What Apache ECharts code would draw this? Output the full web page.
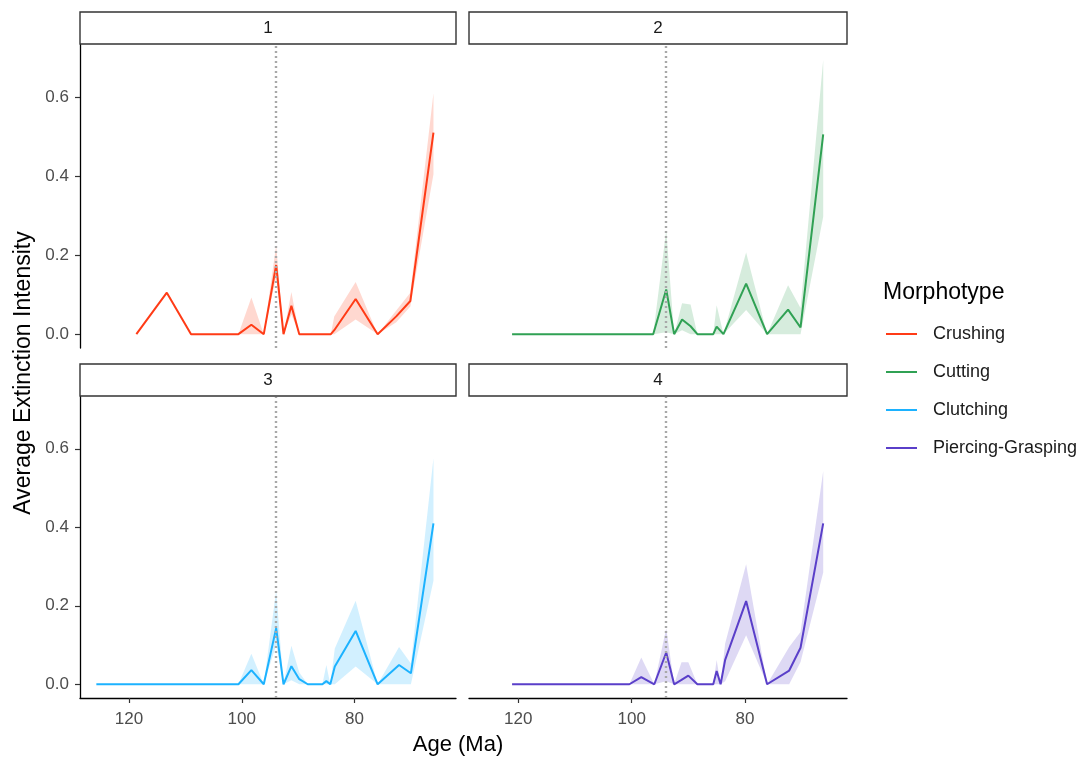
<!DOCTYPE html>
<html>
<head>
<meta charset="utf-8">
<script src="https://cdn.jsdelivr.net/npm/echarts@6/dist/echarts.min.js"></script>
<style>
  html, body { margin: 0; padding: 0; background: #fff; }
  #chart { width: 1091px; height: 759px; }
</style>
</head>
<body>
<div id="chart"></div>
<script>
// names of the facets / morphotypes
const morphotypes = ['Crushing', 'Cutting', 'Clutching', 'Piercing-Grasping'];
const panelLabels = ['1', '2', '3', '4'];
const colors = ['#ff3b16', '#30a154', '#1cb2ff', '#5a3fc9'];

// ages (Ma), mean, lower and upper bounds
const crushingAges  = [118.7, 113.3, 109.0, 100.6, 98.3, 96.1, 93.9, 92.6, 91.2, 89.8, 84.2, 83.6, 79.8, 75.9, 72.6, 70.1, 66.0];
const crushingMean  = [0, 0.105, 0, 0, 0.024, 0, 0.175, 0, 0.072, 0, 0, 0.01, 0.089, 0, 0.045, 0.084, 0.51];
const crushingLow   = [0, 0.105, 0, 0, 0, 0, 0.145, 0, 0.05, 0, 0, 0, 0.037, 0, 0.03, 0.07, 0.405];
const crushingHigh  = [0, 0.105, 0, 0, 0.093, 0, 0.225, 0, 0.107, 0, 0, 0.045, 0.132, 0, 0.06, 0.105, 0.61];

const cuttingAges   = [121.1, 96.2, 93.9, 92.5, 91.1, 89.6, 88.4, 85.6, 85.0, 83.8, 79.8, 76.1, 72.4, 70.2, 66.2];
const cuttingMean   = [0, 0, 0.113, 0, 0.037, 0.02, 0, 0, 0.019, 0, 0.128, 0, 0.062, 0.017, 0.506];
const cuttingLow    = [0, 0, 0.005, 0, 0.01, 0, 0, 0, 0, 0, 0.061, 0, 0, 0, 0.297];
const cuttingHigh   = [0, 0, 0.263, 0, 0.078, 0.075, 0, 0, 0.073, 0, 0.207, 0, 0.124, 0.066, 0.694];

const clutchingAges = [125.8, 100.6, 98.3, 96.1, 93.9, 92.6, 91.2, 89.8, 88.3, 85.7, 85.0, 84.3, 83.5, 79.8, 75.9, 72.1, 70.0, 66.0];
const clutchingMean = [0, 0, 0.036, 0, 0.143, 0, 0.046, 0.013, 0, 0, 0.008, 0, 0.045, 0.136, 0, 0.049, 0.028, 0.41];
const clutchingLow  = [0, 0, 0, 0, 0.1, 0, 0.01, 0, 0, 0, 0, 0, 0, 0.045, 0, 0, 0, 0.264];
const clutchingHigh = [0, 0, 0.078, 0, 0.239, 0, 0.098, 0.03, 0, 0, 0.049, 0, 0.091, 0.213, 0, 0.095, 0.053, 0.576];

const piercingAges  = [121.1, 100.4, 98.3, 96.0, 93.9, 92.5, 91.2, 90.0, 88.4, 85.6, 85.0, 84.3, 83.5, 79.8, 76.1, 72.2, 70.2, 66.2];
const piercingMean  = [0, 0, 0.018, 0, 0.081, 0, 0.011, 0.022, 0, 0, 0.034, 0, 0.062, 0.212, 0, 0.035, 0.093, 0.41];
const piercingLow   = [0, 0, 0, 0, 0.008, 0, 0, 0, 0, 0, 0, 0, 0.008, 0.125, 0, 0, 0.057, 0.285];
const piercingHigh  = [0, 0, 0.068, 0, 0.143, 0, 0.056, 0.056, 0, 0, 0.062, 0, 0.104, 0.306, 0, 0.095, 0.133, 0.543];

const xTicks = [120, 100, 80];
const yTicks = [0, 0.2, 0.4, 0.6];
const boundaryAge = 93.9; // dotted line

const panels = [
    { ages: crushingAges, mean: crushingMean, low: crushingLow, high: crushingHigh },
    { ages: cuttingAges, mean: cuttingMean, low: cuttingLow, high: cuttingHigh },
    { ages: clutchingAges, mean: clutchingMean, low: clutchingLow, high: clutchingHigh },
    { ages: piercingAges, mean: piercingMean, low: piercingLow, high: piercingHigh }
];

const FONT = '"Liberation Sans", Arial, Helvetica, sans-serif';
const grids = [
    { left: 80, top: 45, width: 376, height: 303 },
    { left: 469, top: 45, width: 378, height: 303 },
    { left: 80, top: 397, width: 376, height: 301 },
    { left: 469, top: 397, width: 378, height: 301 }
];

function hexToRgba(hex, a) {
    const n = parseInt(hex.slice(1), 16);
    return 'rgba(' + (n >> 16) + ',' + ((n >> 8) & 255) + ',' + (n & 255) + ',' + a + ')';
}

const chart = echarts.init(document.getElementById('chart'), null, { renderer: 'canvas' });

const xAxes = grids.map((g, i) => ({
    gridIndex: i,
    type: 'value',
    inverse: true,
    min: 62,
    max: 128.7,
    show: i >= 2,
    axisLine: { show: true, onZero: false, lineStyle: { color: '#000', width: 1.3 } },
    axisTick: { show: true, length: 5, customValues: xTicks, lineStyle: { color: '#333', width: 1.2 } },
    axisLabel: { customValues: xTicks, color: '#4d4d4d', fontSize: 17, fontFamily: FONT, margin: 13 },
    splitLine: { show: false }
}));

const yAxes = grids.map((g, i) => ({
    gridIndex: i,
    type: 'value',
    min: -0.035,
    max: 0.732,
    show: i % 2 === 0,
    axisLine: { show: true, onZero: false, lineStyle: { color: '#000', width: 1.3 } },
    axisTick: { show: true, length: 5, customValues: yTicks, lineStyle: { color: '#333', width: 1.2 } },
    axisLabel: {
        customValues: yTicks, color: '#4d4d4d', fontSize: 17, fontFamily: FONT, margin: 11,
        formatter: v => v.toFixed(1)
    },
    splitLine: { show: false }
}));

const series = [];
panels.forEach((p, i) => {
    // confidence band as a polygon through the axis scales
    series.push({
        type: 'custom',
        xAxisIndex: i,
        yAxisIndex: i,
        silent: true,
        z: 1,
        data: p.ages.map((a, k) => [a, p.high[k]]),
        renderItem: function (params, api) {
            if (params.dataIndex !== 0) return null;
            const pts = [];
            for (let k = 0; k < p.ages.length; k++) pts.push(api.coord([p.ages[k], p.high[k]]));
            for (let k = p.ages.length - 1; k >= 0; k--) pts.push(api.coord([p.ages[k], p.low[k]]));
            return {
                type: 'polygon',
                shape: { points: pts },
                style: { fill: hexToRgba(colors[i], 0.2), stroke: null }
            };
        }
    });
    series.push({
        name: morphotypes[i],
        type: 'line',
        xAxisIndex: i,
        yAxisIndex: i,
        z: 3,
        data: p.ages.map((a, k) => [a, p.mean[k]]),
        symbol: 'none',
        color: colors[i],
        lineStyle: { width: 2, color: colors[i] },
        markLine: {
            silent: true,
            symbol: ['none', 'none'],
            label: { show: false },
            lineStyle: { color: '#a8a8a8', width: 2.4, type: [2, 3] },
            data: [{ xAxis: boundaryAge }]
        }
    });
});

// facet strips
const graphics = [];
grids.forEach((g, i) => {
    graphics.push({
        type: 'rect',
        shape: { x: g.left, y: g.top - 33, width: g.width, height: 32 },
        style: { fill: '#fff', stroke: '#333', lineWidth: 1.4 }
    });
    graphics.push({
        type: 'text',
        x: g.left + g.width / 2,
        y: g.top - 17,
        style: { text: panelLabels[i], fill: '#1a1a1a', font: '17px ' + FONT, textAlign: 'center', textVerticalAlign: 'middle' }
    });
});
graphics.push({
    type: 'text',
    x: 24, y: 373,
    rotation: Math.PI / 2,
    style: { text: 'Average Extinction Intensity', fill: '#000', font: '23px ' + FONT, textAlign: 'center', textVerticalAlign: 'middle' }
});
graphics.push({
    type: 'text',
    x: 458, y: 745,
    style: { text: 'Age (Ma)', fill: '#000', font: '22px ' + FONT, textAlign: 'center', textVerticalAlign: 'middle' }
});
graphics.push({
    type: 'text',
    x: 883, y: 293,
    style: { text: 'Morphotype', fill: '#000', font: '23px ' + FONT, textAlign: 'left', textVerticalAlign: 'middle' }
});

chart.setOption({
    animation: false,
    backgroundColor: '#fff',
    grid: grids,
    xAxis: xAxes,
    yAxis: yAxes,
    legend: {
        data: morphotypes,
        orient: 'vertical',
        left: 886,
        top: 324,
        padding: 0,
        icon: 'rect',
        itemWidth: 31,
        itemHeight: 2,
        itemGap: 18,
        textStyle: { color: '#1a1a1a', fontSize: 18, fontFamily: FONT, lineHeight: 20, padding: [0, 0, 0, 11] }
    },
    graphic: graphics,
    series: series
});
</script>
</body>
</html>
